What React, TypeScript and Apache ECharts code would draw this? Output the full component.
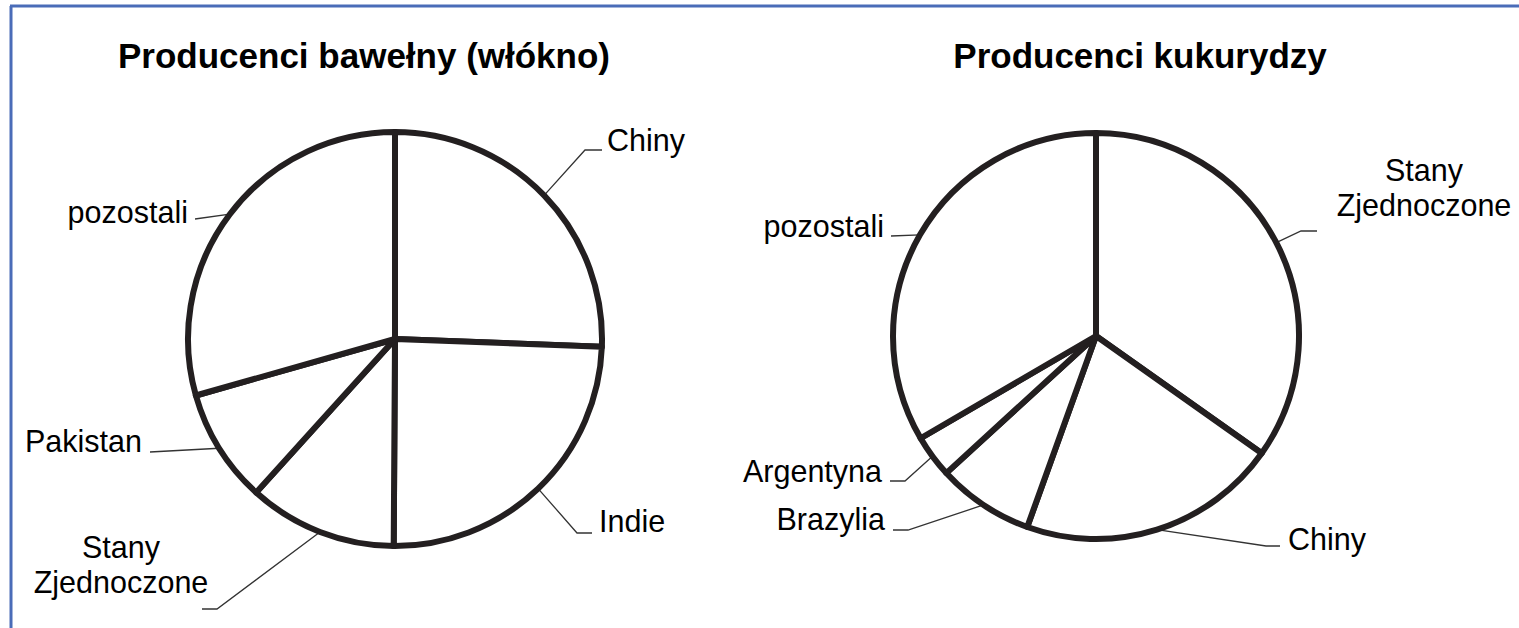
import React, { useEffect, useRef } from 'react';
import * as echarts from 'echarts';

// ---- data ----
const cottonTitle = 'Producenci bawełny (włókno)';
const cottonNames = ['Chiny', 'Indie', 'Stany\nZjednoczone', 'Pakistan', 'pozostali'];
const cottonValues = [25.6, 24.5, 11.6, 8.9, 29.4];

const cornTitle = 'Producenci kukurydzy';
const cornNames = ['Stany\nZjednoczone', 'Chiny', 'Brazylia', 'Argentyna', 'pozostali'];
const cornValues = [34.8, 20.7, 7.7, 3.4, 33.4];

// ---- layout (label placement, not data) ----
type LabelPlace = { x: number; y: number; align: 'left' | 'right' | 'center'; ex: number; ey: number; endX: number };
const cottonLabels: LabelPlace[] = [
  { x: 607, y: 140, align: 'left', ex: 585, ey: 150, endX: 602 },
  { x: 599, y: 521, align: 'left', ex: 577, ey: 533, endX: 592 },
  { x: 121, y: 564, align: 'center', ex: 217, ey: 609, endX: 202 },
  { x: 142, y: 441, align: 'right', ex: 150, ey: 452, endX: 150 },
  { x: 188, y: 212, align: 'right', ex: 195, ey: 219, endX: 195 },
];
const cornLabels: LabelPlace[] = [
  { x: 1424, y: 187, align: 'center', ex: 1301, ey: 231, endX: 1317 },
  { x: 1288, y: 539, align: 'left', ex: 1266, ey: 546, endX: 1280 },
  { x: 885, y: 519, align: 'right', ex: 908, ey: 530, endX: 893 },
  { x: 882, y: 471, align: 'right', ex: 905, ey: 481, endX: 890 },
  { x: 884, y: 226, align: 'right', ex: 891, ey: 236, endX: 891 },
];

const FONT = '"Liberation Sans", Arial, sans-serif';
const EDGE = '#231f20';

function midPoints(values: number[], cx: number, cy: number, r: number) {
  const total = values.reduce((a, b) => a + b, 0);
  let acc = 0;
  return values.map((v) => {
    const mid = ((acc + v / 2) / total) * Math.PI * 2;
    acc += v;
    return [cx + r * Math.sin(mid), cy - r * Math.cos(mid)];
  });
}

function pieSeries(names: string[], values: number[], cx: number, cy: number, r: number, places: LabelPlace[]) {
  const starts = midPoints(values, cx, cy, r);
  return {
    type: 'pie',
    center: [cx, cy],
    radius: [0, r],
    startAngle: 90,
    clockwise: true,
    silent: true,
    avoidLabelOverlap: false,
    itemStyle: { color: '#ffffff', borderColor: EDGE, borderWidth: 6 },
    label: {
      show: true,
      position: 'outside',
      formatter: '{b}',
      color: '#000000',
      fontSize: 30.5,
      lineHeight: 35,
      fontFamily: FONT,
    },
    labelLine: { show: true, lineStyle: { color: '#333333', width: 1.3 } },
    labelLayout: (params: any) => {
      const p = places[params.dataIndex];
      const s = starts[params.dataIndex];
      return {
        x: p.x,
        y: p.y,
        align: p.align,
        verticalAlign: 'middle',
        labelLinePoints: [s, [p.ex, p.ey], [p.endX, p.ey]],
      };
    },
    data: names.map((n, i) => ({ name: n, value: values[i] })),
  };
}

export default function App() {
  const ref = useRef<HTMLDivElement>(null);
  useEffect(() => {
    if (!ref.current) return;
    const chart = echarts.init(ref.current, null, { renderer: 'svg' });
    chart.setOption({
      animation: false,
      backgroundColor: '#ffffff',
      graphic: [
        { type: 'line', shape: { x1: 11, y1: 6, x2: 11, y2: 640 }, style: { stroke: '#4a6cb8', lineWidth: 3 } },
        { type: 'line', shape: { x1: 10, y1: 6, x2: 1530, y2: 6 }, style: { stroke: '#4a6cb8', lineWidth: 3 } },
        {
          type: 'text', x: 364, y: 55,
          style: { text: cottonTitle, textAlign: 'center', textVerticalAlign: 'middle', font: `bold 35px ${FONT}`, fill: '#000' },
        },
        {
          type: 'text', x: 1140, y: 55,
          style: { text: cornTitle, textAlign: 'center', textVerticalAlign: 'middle', font: `bold 35px ${FONT}`, fill: '#000' },
        },
      ],
      series: [
        pieSeries(cottonNames, cottonValues, 395, 339, 207, cottonLabels),
        pieSeries(cornNames, cornValues, 1096, 336, 203, cornLabels),
      ],
    });
    return () => chart.dispose();
  }, []);
  return <div ref={ref} style={{ position: 'absolute', left: 0, top: 0, width: 1519, height: 628 }} />;
}
